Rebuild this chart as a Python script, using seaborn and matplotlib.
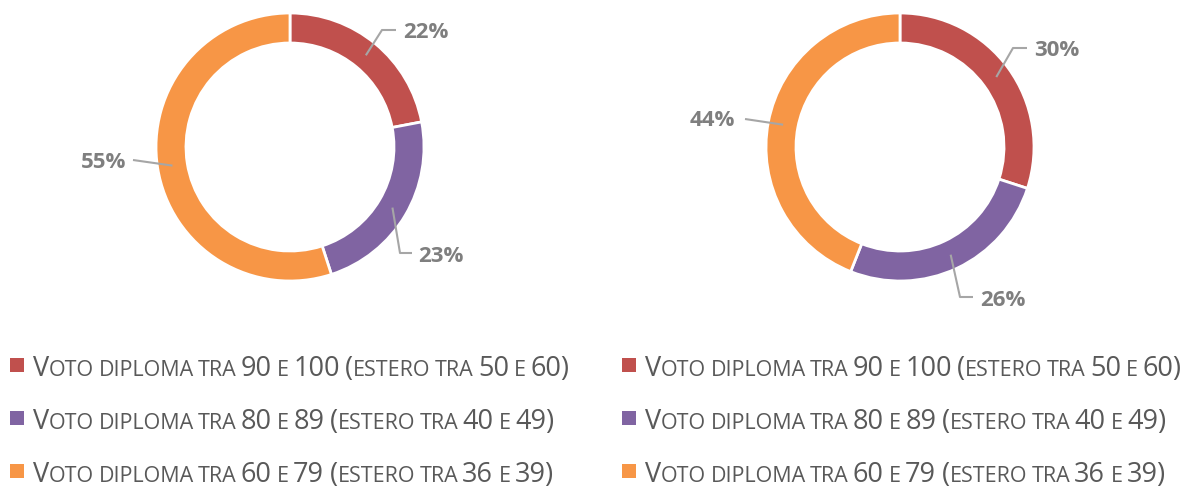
import numpy as np
import seaborn as sns
import matplotlib.pyplot as plt

# dati
categorie = [
    "Voto diploma tra 90 e 100 (estero tra 50 e 60)",
    "Voto diploma tra 80 e 89 (estero tra 40 e 49)",
    "Voto diploma tra 60 e 79 (estero tra 36 e 39)",
]
valori_sx = [22, 23, 55]
valori_dx = [30, 26, 44]
colori = ["#C0504D", "#8064A2", "#F79646"]

sns.set_style("white")
plt.rcParams["font.family"] = ["Open Sans", "DejaVu Sans"]

W, H = 1195, 487
fig = plt.figure(figsize=(W / 100, H / 100), dpi=100)
ax = fig.add_axes([0, 0, 1, 1])

# layout in pixel (x, y dall'alto): centro, gomito, testo
grafici = [
    dict(val=valori_sx, c=(290, 147),
         gomiti=[(382, 30), (400, 253), None],
         fine=[(396, 30), (412, 253), (133, 160)],
         testo=[(403, 33, "left"), (418, 257, "left"), (126, 162, "right")]),
    dict(val=valori_dx, c=(900, 147),
         gomiti=[(1013, 48), (960, 297), None],
         fine=[(1027, 48), (973, 297), (745, 119)],
         testo=[(1034, 50, "left"), (980, 300, "left"), (735, 121, "right")]),
]

R, LARG = 134, 30
for g in grafici:
    cx, cy = g["c"]
    wedges, _ = ax.pie(g["val"], colors=colori, startangle=90, counterclock=False,
                       center=(cx, H - cy), radius=R,
                       wedgeprops=dict(width=LARG, edgecolor="white", linewidth=2))
    for i, w in enumerate(wedges):
        a = np.deg2rad((w.theta1 + w.theta2) / 2)
        r = R - LARG / 2
        xs = [cx + r * np.cos(a)]
        ys = [H - cy + r * np.sin(a)]
        if g["gomiti"][i] is not None:
            xs.append(g["gomiti"][i][0]); ys.append(H - g["gomiti"][i][1])
        xs.append(g["fine"][i][0]); ys.append(H - g["fine"][i][1])
        ax.plot(xs, ys, color="#a6a6a6", lw=1.5, solid_capstyle="butt")
        tx, ty, ha = g["testo"][i]
        ax.text(tx, H - ty, f"{g['val'][i]}%", ha=ha, va="center",
                fontsize=16, fontweight="bold", color="#7f7f7f")

ax.set_xlim(0, W)
ax.set_ylim(0, H)
ax.set_aspect("equal")
ax.axis("off")

# legenda in maiuscoletto
renderer = fig.canvas.get_renderer()
GRANDE, PICCOLO = 19.5, 15.5
COL_TXT = "#595959"


def larghezza(s, size):
    t = ax.text(0, 0, s, fontsize=size)
    w = t.get_window_extent(renderer).width
    t.remove()
    return w


spazio = {sz: larghezza("a a", sz) - larghezza("aa", sz) for sz in (GRANDE, PICCOLO)}


def maiuscoletto(x, y, s):
    # spezza in gruppi: minuscole -> piccolo maiuscolo, resto grande
    gruppi = []
    for ch in s:
        if ch == " ":
            gruppi.append((" ", None))
            continue
        sz = PICCOLO if ch.islower() else GRANDE
        if gruppi and gruppi[-1][1] == sz:
            gruppi[-1] = (gruppi[-1][0] + ch.upper(), sz)
        else:
            gruppi.append((ch.upper(), sz))
    prev = GRANDE
    for txt, sz in gruppi:
        if txt == " ":
            x += spazio[prev] * 0.75
            continue
        t = ax.text(x, y, txt, fontsize=sz, color=COL_TXT, va="baseline", ha="left")
        x += t.get_window_extent(renderer).width
        prev = sz


for xm in (12, 624):
    for j, (cat, col) in enumerate(zip(categorie, colori)):
        ym = 365 + 53 * j
        ax.scatter([xm + 5.5], [H - ym], marker="s", s=100, color=col, linewidths=0)
        maiuscoletto(xm + 21, H - (376 + 53 * j), cat)

fig.savefig("out.png", dpi=100)
